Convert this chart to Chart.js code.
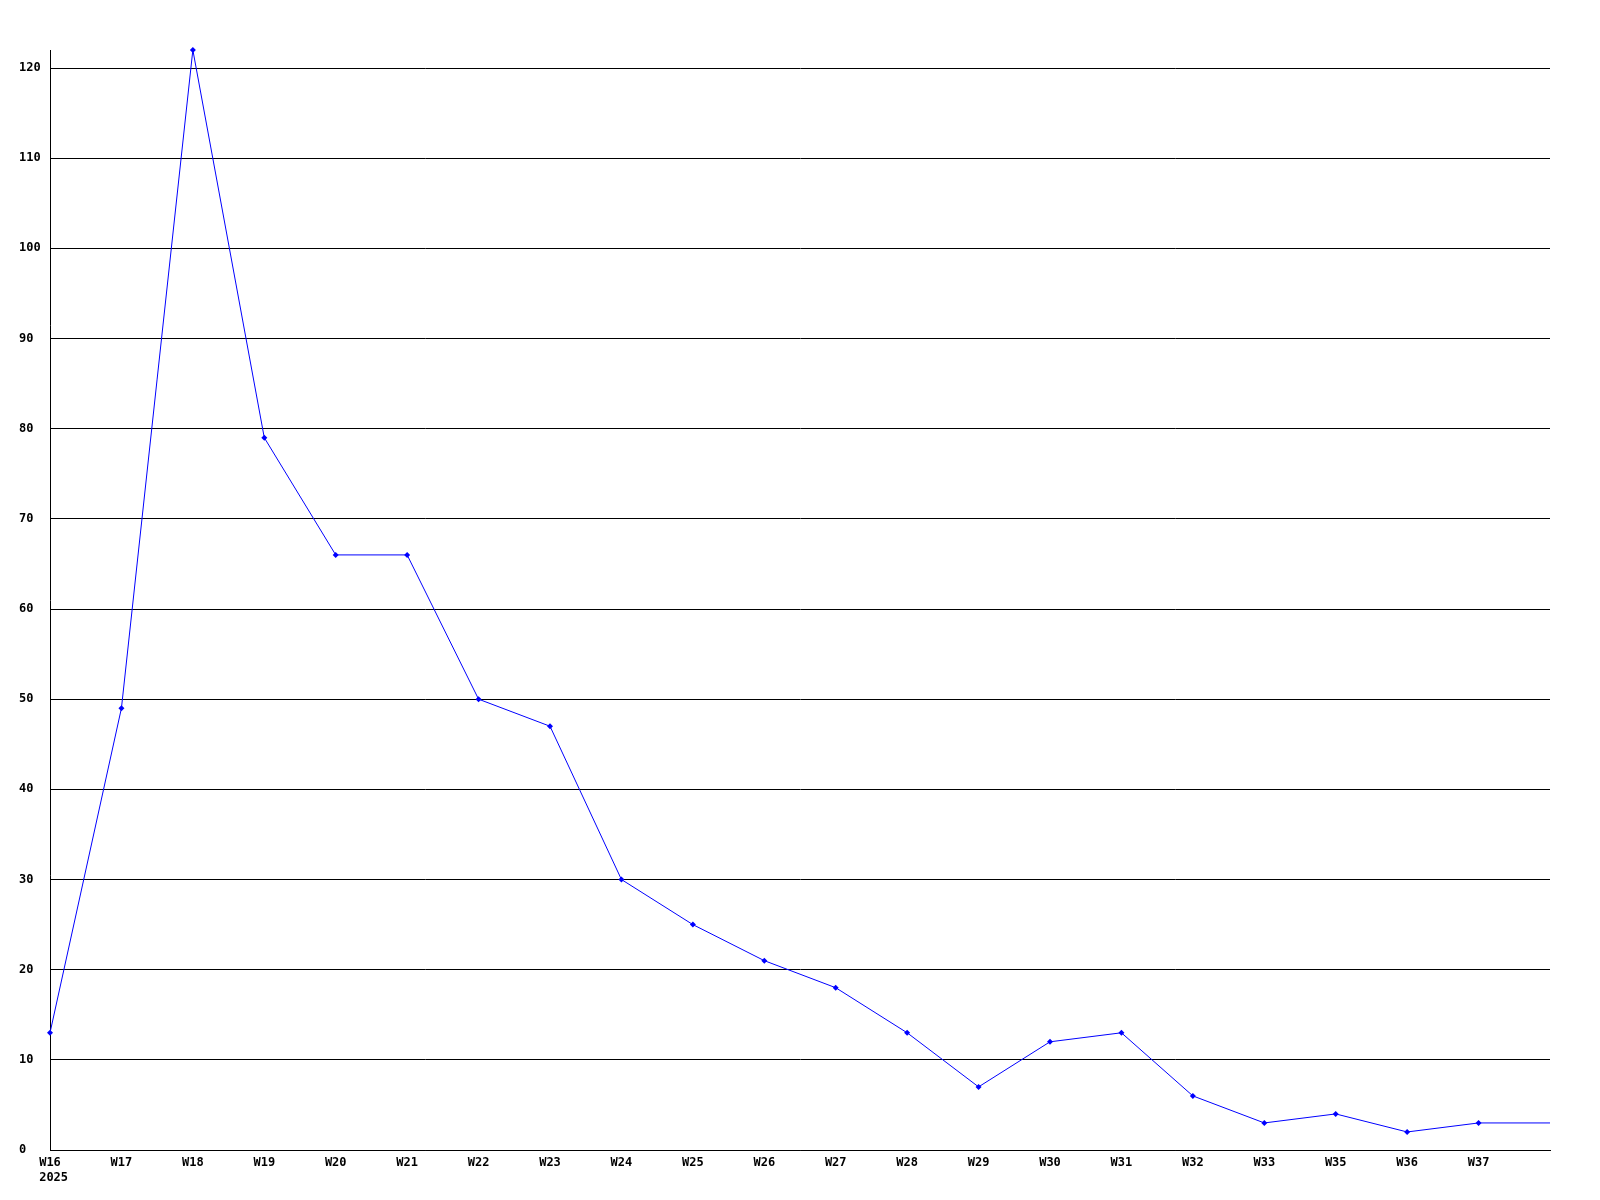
<!DOCTYPE html>
<html>
<head>
<meta charset="utf-8">
<script src="https://cdn.jsdelivr.net/npm/chart.js@4/dist/chart.umd.min.js"></script>
<style>
  html, body { margin: 0; padding: 0; background: #fff; }
  #wrap { width: 1600px; height: 1200px; }
</style>
</head>
<body>
<div id="wrap"><canvas id="chart"></canvas></div>
<script>
// weeks on the x axis (last slot is the flat tail to the edge of the plot)
const weekLabels = [['W16', ' 2025'], 'W17', 'W18', 'W19', 'W20', 'W21', 'W22', 'W23', 'W24', 'W25',
  'W26', 'W27', 'W28', 'W29', 'W30', 'W31', 'W32', 'W33', 'W35', 'W36', 'W37', ''];
const weeklyCounts = [13, 49, 122, 79, 66, 66, 50, 47, 30, 25, 21, 18, 13, 7, 12, 13, 6, 3, 4, 2, 3, 3];
const yTickMax = 120;
const yTickStep = 10;

const tickFont = { family: 'DejaVu Sans Mono', size: 12, weight: 'bold', lineHeight: 15 / 12 };

const ctx = document.getElementById('chart').getContext('2d');
new Chart(ctx, {
  type: 'line',
  data: {
    labels: weekLabels,
    datasets: [{
      data: weeklyCounts,
      borderColor: '#0000ff',
      backgroundColor: '#0000ff',
      borderWidth: 1,
      tension: 0,
      clip: false,
      pointStyle: 'rectRot',
      pointRadius: weeklyCounts.map((v, i) => i === weeklyCounts.length - 1 ? 0 : 3),
      pointBorderWidth: 0,
      fill: false
    }]
  },
  options: {
    responsive: true,
    maintainAspectRatio: false,
    animation: false,
    layout: { padding: { top: 50, right: 50, left: 19, bottom: 0 } },
    plugins: {
      legend: { display: false },
      tooltip: { enabled: false }
    },
    scales: {
      x: {
        offset: false,
        grid: { display: false, drawTicks: false },
        border: { display: true, color: '#000', width: 1 },
        ticks: {
          autoSkip: false,
          maxRotation: 0,
          padding: 5,
          color: '#000',
          font: tickFont
        },
        afterFit: (scale) => { scale.height = 50; }
      },
      y: {
        min: 0,
        max: 122,
        grid: { color: '#000', lineWidth: 1, drawTicks: false },
        border: { display: true, color: '#000', width: 1 },
        ticks: {
          stepSize: yTickStep,
          includeBounds: false,
          crossAlign: 'far',
          padding: 0,
          color: '#000',
          font: tickFont,
          callback: (v) => v <= yTickMax ? v : null
        },
        afterFit: (scale) => { scale.width = 31; }
      }
    }
  }
});
</script>
</body>
</html>
